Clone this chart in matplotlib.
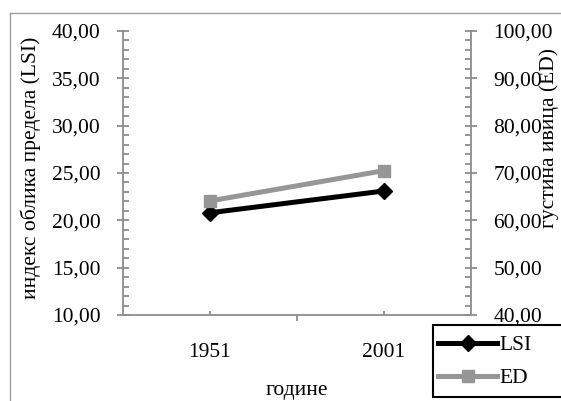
import matplotlib
matplotlib.use("Agg")
import matplotlib.pyplot as plt
from matplotlib.lines import Line2D
from matplotlib.patches import Rectangle
from matplotlib.ticker import FixedLocator, FuncFormatter, MultipleLocator

plt.rcParams["font.family"] = ["Liberation Serif", "DejaVu Serif"]

years = ["1951", "2001"]
lsi = [20.8, 23.1]
ed = [64.1, 70.5]

W, H = 561, 401
GRAY = "#8c8c8c"
FS = 15.5


def comma(v, _pos):
    return f"{v:.2f}".replace(".", ",")


fig = plt.figure(figsize=(W / 100, H / 100), dpi=100)
ax = fig.add_axes([123 / W, 1 - 315 / H, 348 / W, 284 / H])
ax2 = ax.twinx()

x = list(range(len(years)))
ax.plot(x, lsi, color="black", lw=3.6, marker="D", ms=8.5, label="LSI", zorder=3)
ax2.plot(x, ed, color="#969696", lw=3.6, marker="s", ms=8.5, label="ED", zorder=3)

ax.set_xlim(-0.5, len(years) - 0.5)
ax.set_ylim(10, 40)
ax2.set_ylim(40, 100)

for a in (ax, ax2):
    for s in a.spines.values():
        s.set_visible(False)
ax.spines["left"].set_visible(True)
ax.spines["bottom"].set_visible(True)
ax2.spines["right"].set_visible(True)
for s in (ax.spines["left"], ax.spines["bottom"], ax2.spines["right"]):
    s.set_color(GRAY)
    s.set_linewidth(1.3)

# x ticks: categories point inward, bin boundary points outward
ax.xaxis.set_major_locator(FixedLocator(x))
ax.set_xticklabels(years)
ax.xaxis.set_minor_locator(FixedLocator([0.5]))
ax.tick_params(axis="x", which="major", direction="in", length=3, width=1.3,
               color=GRAY, labelsize=FS, pad=20)
ax.tick_params(axis="x", which="minor", direction="out", length=4, width=1.3, color=GRAY)

ax.yaxis.set_major_locator(MultipleLocator(5))
ax.yaxis.set_minor_locator(MultipleLocator(1))
ax.yaxis.set_major_formatter(FuncFormatter(comma))
ax.tick_params(axis="y", which="major", direction="inout", length=8, width=1.3,
               color=GRAY, labelsize=FS, pad=12)
ax.tick_params(axis="y", which="minor", direction="in", length=4, width=1.3, color=GRAY)

ax2.yaxis.set_major_locator(MultipleLocator(10))
ax2.yaxis.set_minor_locator(MultipleLocator(2))
ax2.yaxis.set_major_formatter(FuncFormatter(comma))
ax2.tick_params(axis="y", which="major", direction="inout", length=8, width=1.3,
                color=GRAY, labelsize=FS, pad=12)
ax2.tick_params(axis="y", which="minor", direction="in", length=4, width=1.3, color=GRAY)

fig.text(31 / W, 1 - 167.5 / H, "индекс облика предела (LSI)", rotation=90,
         ha="center", va="center", fontsize=FS)
fig.text(549 / W, 1 - 138 / H, "густина ивица (ED)", rotation=90,
         ha="center", va="center", fontsize=FS)
fig.text(297 / W, 1 - 390 / H, "године", ha="center", va="center", fontsize=FS)

# outer chart border
fig.add_artist(Line2D([10 / W, 10 / W], [0, 1 - 12.5 / H], color="#a0a0a0", lw=1))
fig.add_artist(Line2D([10 / W, 1], [1 - 12.5 / H, 1 - 12.5 / H], color="#a0a0a0", lw=1))

# legend box runs past the right edge of the picture
fig.add_artist(Rectangle((433 / W, 1 - 397 / H), 140 / W, 72 / H,
                         transform=fig.transFigure, fill=True, facecolor="white",
                         edgecolor="black", lw=1.5, zorder=5))
handles = ax.get_lines() + ax2.get_lines()
leg = fig.legend(handles, [h.get_label() for h in handles], loc="upper left",
                 bbox_to_anchor=(438 / W, 1 - 335 / H), bbox_transform=fig.transFigure,
                 fontsize=FS, frameon=False, borderaxespad=0, borderpad=0,
                 handlelength=2.75, handletextpad=0.1, labelspacing=0.6)
leg.set_zorder(6)

fig.savefig("out.png", dpi=100)
